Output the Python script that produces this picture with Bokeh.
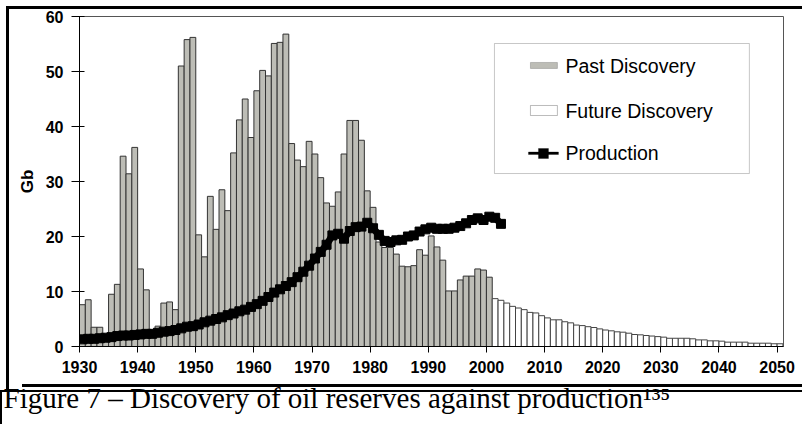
from bokeh.plotting import figure
from bokeh.models import FixedTicker, BoxAnnotation, Label, Range1d, Title
from bokeh.embed import file_html
from bokeh.resources import INLINE

# ---- data ----
past_years = list(range(1930, 2001))
past_discovery = [
    7.6, 8.5, 3.5, 3.5, 1.5, 9.5, 11.3, 34.6, 31.4, 36.2,
    14.1, 10.3, 2.0, 3.7, 7.9, 8.1, 6.7, 51.0, 55.8, 56.2,
    20.3, 16.3, 27.3, 21.3, 28.5, 24.7, 35.2, 41.2, 45.0, 38.0,
    46.5, 50.2, 49.2, 55.1, 55.3, 56.8, 36.9, 33.9, 32.7, 37.3,
    35.0, 30.7, 26.1, 25.5, 28.1, 35.0, 41.1, 41.1, 37.5, 28.3,
    25.3, 19.0, 18.0, 18.0, 16.8, 14.6, 14.5, 14.7, 17.6, 16.6,
    20.1, 18.1, 15.7, 10.1, 10.1, 12.1, 12.8, 12.8, 14.1, 13.9,
    12.6,
]
future_years = list(range(2001, 2051))
future_discovery = [
    8.7, 8.4, 7.9, 7.3, 7.0, 6.7, 6.2, 6.1, 5.6, 5.2,
    4.85, 4.85, 4.5, 4.3, 3.9, 3.8, 3.6, 3.45, 3.2, 3.0,
    2.85, 2.67, 2.6, 2.42, 2.18, 2.12, 2.0, 1.9, 1.8, 1.7,
    1.5, 1.5, 1.5, 1.5, 1.4, 1.2, 1.2, 1.03, 1.03, 0.97,
    0.79, 0.79, 0.79, 0.79, 0.6, 0.6, 0.6, 0.6, 0.5, 0.5,
]
production_years = list(range(1930, 2003))
production = [
    1.3, 1.4, 1.4, 1.5, 1.6, 1.7, 1.9, 2.0, 2.0, 2.1,
    2.2, 2.3, 2.3, 2.5, 2.7, 2.8, 3.0, 3.3, 3.6, 3.7,
    4.0, 4.4, 4.7, 5.0, 5.3, 5.7, 6.0, 6.4, 6.7, 7.2,
    7.7, 8.3, 9.0, 9.8, 10.4, 11.0, 11.7, 12.6, 13.6, 14.7,
    16.0, 17.2, 18.5, 20.2, 20.5, 19.6, 21.0, 21.7, 21.8, 22.5,
    21.5, 20.3, 19.2, 19.0, 19.3, 19.4, 20.0, 20.2, 20.9, 21.3,
    21.6, 21.4, 21.4, 21.4, 21.6, 21.9, 22.4, 23.0, 23.3, 23.0,
    23.6, 23.4, 22.3,
]
x_ticks = list(range(1930, 2051, 10))
y_ticks = [0, 10, 20, 30, 40, 50, 60]
legend_labels = ["Past Discovery", "Future Discovery", "Production"]
caption = "Figure 7 \u2013 Discovery of oil reserves against production\u00b9\u00b3\u2075"

BAR_GREY = "#bdbdb6"

# frame occupies page pixels x 79..783, y 16..346
FL, FT, FR, FB = 79, 16, 783, 346
W, H = 803, 424

p = figure(width=W, height=H,
           x_range=Range1d(1930, 2051.1), y_range=Range1d(0, 60),
           output_backend="svg", toolbar_location=None,
           min_border_left=FL, min_border_right=W - FR,
           min_border_top=FT, min_border_bottom=H - FB)
p.background_fill_color = "white"
p.border_fill_color = None

# page rules of the document table, painted behind the (transparent) canvas border
def grad(x, y, w, h):
    return f"linear-gradient(#000, #000) {x}px {y}px / {w}px {h}px no-repeat"

p.styles = {
    "background": ", ".join([
        grad(6, 6, 796, 3),     # top rule
        grad(6, 6, 3, 385),     # left rule of the chart cell
        grad(22, 384, 780, 3),  # rule under the tick labels
        grad(0, 390, 802, 2),   # caption cell top
        grad(0, 390, 2, 34),    # caption cell left
    ]) + ", #fff",
}

p.grid.visible = False
p.outline_line_color = "#555555"
p.outline_line_width = 1

# bars: each year's bar spans [year, year+1)
p.vbar(x=[y + 0.5 for y in past_years], top=past_discovery, width=1.0,
       fill_color=BAR_GREY, line_color="#333333", line_width=1)
p.vbar(x=[y + 0.5 for y in future_years], top=future_discovery, width=1.0,
       fill_color="white", line_color="#444444", line_width=1)

px = [y + 0.5 for y in production_years]
p.line(px, production, line_color="black", line_width=7)
p.scatter(px, production, marker="square", size=9, fill_color="black", line_color="black")

# axes
p.xaxis.ticker = FixedTicker(ticks=x_ticks)
p.yaxis.ticker = FixedTicker(ticks=y_ticks)
for ax in (p.xaxis, p.yaxis):
    ax.axis_line_color = "black"
    ax.major_tick_line_color = "black"
    ax.minor_tick_line_color = None
    ax.major_label_text_font = "Liberation Sans"
    ax.major_label_text_font_style = "bold"
    ax.major_label_text_color = "black"
    ax.major_label_text_font_size = "16px"
p.xaxis.major_tick_in = 0
p.xaxis.major_tick_out = 6
p.xaxis.major_label_standoff = 8
p.yaxis.major_tick_in = 5
p.yaxis.major_tick_out = 8
p.yaxis.major_label_standoff = 8
p.yaxis.axis_label = "Gb"
p.yaxis.axis_label_text_font = "Liberation Sans"
p.yaxis.axis_label_text_font_style = "bold"
p.yaxis.axis_label_text_font_size = "17px"
p.yaxis.axis_label_text_color = "black"
p.yaxis.axis_label_standoff = 6

# legend (drawn manually to match the swatch sizes)
def box(l, r, t, b, fill, line, lw=1):
    p.add_layout(BoxAnnotation(left=l, right=r, top=t, bottom=b,
                               fill_color=fill, fill_alpha=1.0,
                               line_color=line, line_width=lw))

box(2001.38, 2045.23, 55.09, 31.45, "white", "#444444")
box(2007.57, 2012.21, 51.64, 50.55, BAR_GREY, "#555555")
box(2007.57, 2012.21, 43.82, 42.0, "white", "#222222")
box(2007.23, 2012.39, 35.36, 34.91, "black", "black")
box(2008.95, 2010.67, 36.0, 34.18, "black", "black")
for lab, yv in zip(legend_labels, [51.09, 42.78, 35.15]):
    p.add_layout(Label(x=2013.59, y=yv, text=lab, text_baseline="middle",
                       text_font="Liberation Sans", text_font_size="19.5px",
                       text_color="black"))

# caption, in the panel below the x axis
p.add_layout(Title(text=caption, align="left", offset=3 - FL, standoff=8,
                   vertical_align="bottom", text_line_height=0.7,
                   text_font="Liberation Serif", text_font_size="29px",
                   text_font_style="normal", text_color="black"), "below")

open("out.html", "w").write(file_html(p, INLINE))
